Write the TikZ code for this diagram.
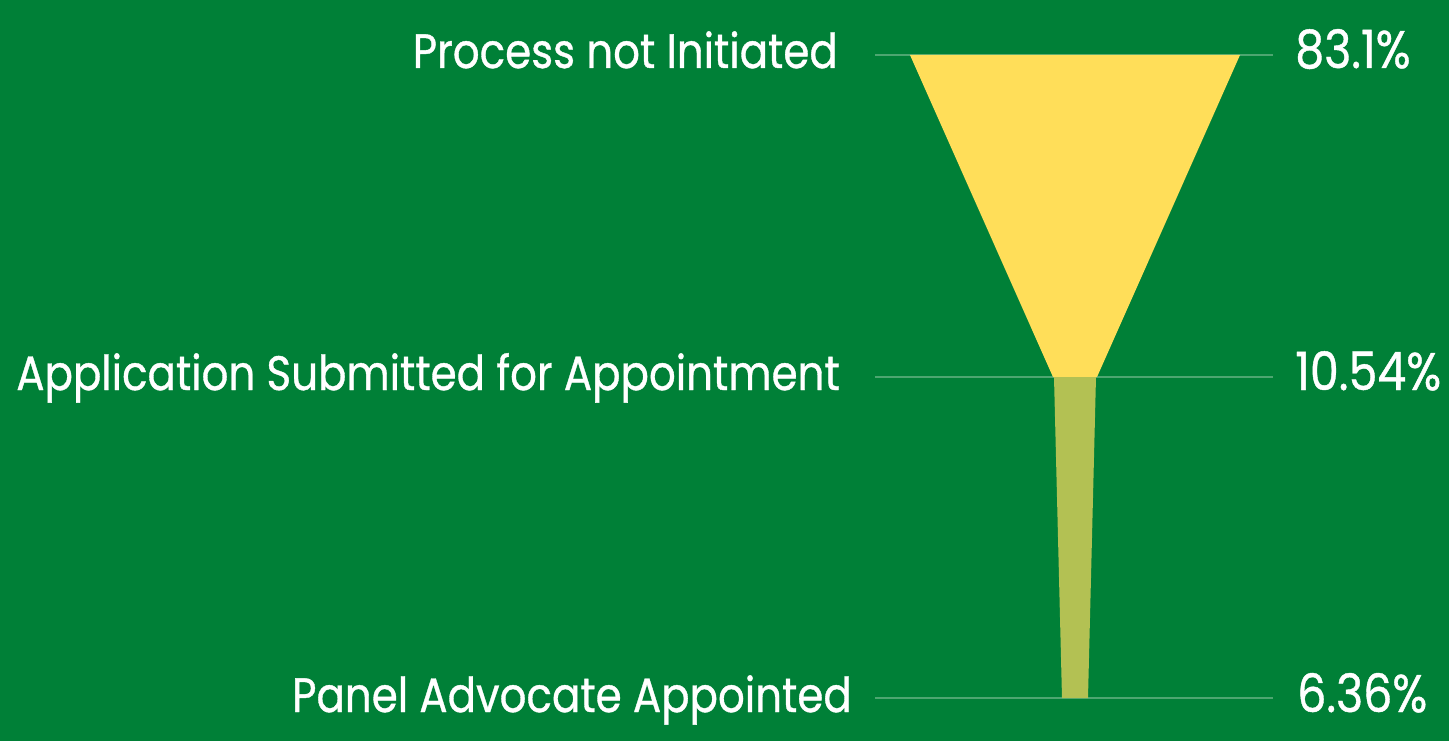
\documentclass[tikz,border=0pt]{standalone}
\usepackage{fontspec}
\setmainfont{Poppins}[FakeBold=0.8]
\usepackage{tikz}
\usetikzlibrary{positioning}

\definecolor{bggreen}{RGB}{0,128,55}
\definecolor{funnelyellow}{RGB}{255,222,89}
\definecolor{funnelolive}{RGB}{179,193,83}
\definecolor{gridgreen}{RGB}{77,166,112}

\begin{document}
\begin{tikzpicture}[x=1pt, y=-1pt]
% -------------------------------------------------
\tikzset{
  stage/.style={anchor=base east, text=white, inner sep=0pt, yscale=1.15, transform shape, font=\fontsize{42}{44}\selectfont},
  pct/.style={anchor=base west, text=white, inner sep=0pt, yscale=1.15, transform shape, font=\fontsize{46}{48}\selectfont},
  grid/.style={draw=gridgreen, line width=1.2pt}
}

\fill[bggreen] (0,0) rectangle (1449,741);
\useasboundingbox (0,0) rectangle (1449,741);

% level lines
\coordinate (l1a) at (875,55);  \coordinate (l1b) at (1273,55);
\coordinate (l2a) at (875,377); \coordinate (l2b) at (1273,377);
\coordinate (l3a) at (875,698); \coordinate (l3b) at (1273,698);
\path [grid] (l1a) -- (l1b);
\path [grid] (l2a) -- (l2b);
\path [grid] (l3a) -- (l3b);

% funnel
\fill[funnelyellow] (910,55) -- (1240,55) -- (1097,377) -- (1053,377) -- cycle;
\fill[funnelolive] (1054,377) -- (1096,377) -- (1088,698) -- (1062,698) -- cycle;

% labels
\node [stage] (s1) at (838,68) {Process not Initiated};
\node [stage] (s2) at (840,390) {Application Submitted for Appointment};
\node [stage] (s3) at (852,712) {Panel Advocate Appointed};

\node [pct] (p1) at (1295,68) {83.1\%};
\node [pct] (p2) at (1295,390) {10.54\%};
\node [pct] (p3) at (1297,712) {6.36\%};

\end{tikzpicture}
\end{document}
